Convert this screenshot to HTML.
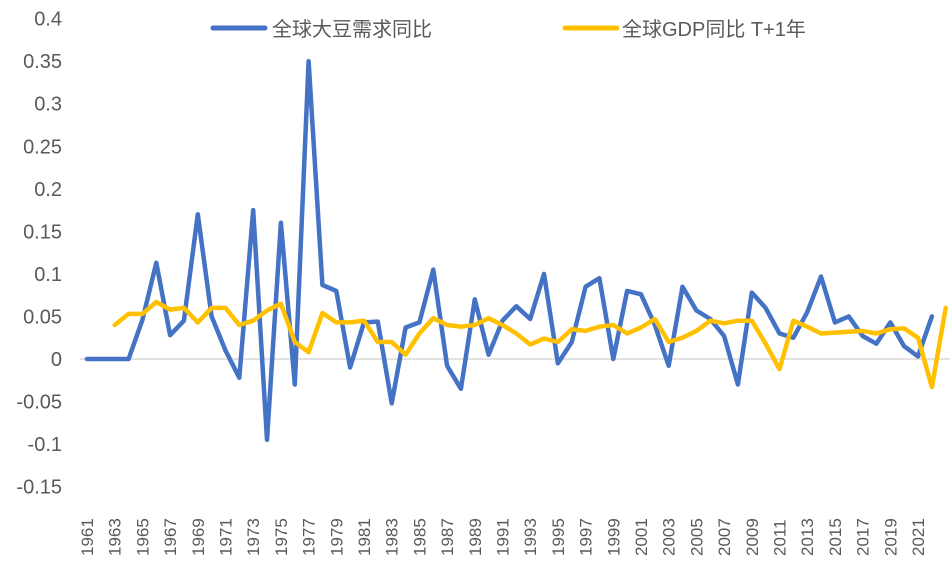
<!DOCTYPE html>
<html><head><meta charset="utf-8"><style>
body{margin:0;background:#fff;}
svg{display:block;font-family:"Liberation Sans","Noto Sans CJK SC",sans-serif;}
</style></head><body>
<svg id="chart" width="952" height="561" viewBox="0 0 952 561" xmlns="http://www.w3.org/2000/svg">
<g id="yaxis"></g>
<g id="xaxis"></g>
<line x1="80" x2="950" y1="359" y2="359" stroke="#d9d9d9" stroke-width="1.5"/>
<g id="series"></g>
<g>
<line x1="213" x2="265" y1="28" y2="28" stroke="#4472C4" stroke-width="5" stroke-linecap="round"/>
<text x="272" y="36" font-size="20" fill="#595959">全球大豆需求同比</text>
<line x1="565" x2="617" y1="28" y2="28" stroke="#FFC000" stroke-width="5" stroke-linecap="round"/>
<text x="622" y="36" font-size="20" fill="#595959">全球GDP同比 T+1年</text>
</g>
</svg>
<script>
const blueStart = 1961;
const blueValues = [0,0,0,0,0.046,0.113,0.028,0.045,0.17,0.05,0.01,-0.022,0.175,-0.095,0.16,-0.03,0.35,0.087,0.08,-0.01,0.043,0.044,-0.052,0.037,0.043,0.105,-0.008,-0.035,0.07,0.005,0.045,0.062,0.047,0.1,-0.005,0.02,0.085,0.095,0.0,0.08,0.076,0.04,-0.008,0.085,0.057,0.047,0.027,-0.03,0.078,0.06,0.03,0.025,0.055,0.097,0.043,0.05,0.027,0.018,0.043,0.015,0.003,0.05];
const yellowStart = 1963;
const yellowValues = [0.04,0.053,0.053,0.067,0.058,0.06,0.043,0.06,0.06,0.04,0.045,0.057,0.065,0.02,0.008,0.054,0.043,0.043,0.045,0.02,0.02,0.005,0.03,0.048,0.04,0.038,0.04,0.048,0.04,0.03,0.017,0.024,0.02,0.035,0.033,0.038,0.04,0.03,0.037,0.047,0.02,0.025,0.033,0.045,0.042,0.045,0.045,0.018,-0.012,0.045,0.038,0.03,0.031,0.032,0.033,0.03,0.035,0.036,0.025,-0.033,0.06];
const yTicks = [0.4,0.35,0.3,0.25,0.2,0.15,0.1,0.05,0,-0.05,-0.1,-0.15];
const xTickYears = [1961,1963,1965,1967,1969,1971,1973,1975,1977,1979,1981,1983,1985,1987,1989,1991,1993,1995,1997,1999,2001,2003,2005,2007,2009,2011,2013,2015,2017,2019,2021];

const NS = "http://www.w3.org/2000/svg";
function xs(year){ return 87 + (year - 1961) * 13.85; }
function ys(v){ return 359 - v * 851; }

const yg = document.getElementById('yaxis');
yTicks.forEach(t => {
  const el = document.createElementNS(NS, 'text');
  
  
  el.setAttribute('x', 62);
  el.setAttribute('y', ys(t) + 7);
  el.setAttribute('text-anchor', 'end');
  el.setAttribute('font-size', '20');
  el.setAttribute('fill', '#595959');
  el.textContent = String(t);
  yg.appendChild(el);
});
const xg = document.getElementById('xaxis');
xTickYears.forEach(yr => {
  const el = document.createElementNS(NS, 'text');
  
  
  const x = xs(yr) + 6, y = 556;
  el.setAttribute('transform', 'translate(' + x + ',' + y + ') rotate(-90)');
  el.setAttribute('font-size', '17');
  el.setAttribute('fill', '#595959');
  el.textContent = String(yr);
  xg.appendChild(el);
});
function drawLine(start, vals, color, name){
  const pts = vals.map((v,i) => xs(start + i).toFixed(1) + ',' + ys(v).toFixed(1)).join(' ');
  const pl = document.createElementNS(NS, 'polyline');
  
  
  pl.setAttribute('points', pts);
  pl.setAttribute('fill', 'none');
  pl.setAttribute('stroke', color);
  pl.setAttribute('stroke-width', '4.5');
  pl.setAttribute('stroke-linejoin', 'round');
  pl.setAttribute('stroke-linecap', 'round');
  document.getElementById('series').appendChild(pl);
}
drawLine(blueStart, blueValues, '#4472C4', 'soy-demand-line');
drawLine(yellowStart, yellowValues, '#FFC000', 'gdp-line');
</script>
</body></html>
